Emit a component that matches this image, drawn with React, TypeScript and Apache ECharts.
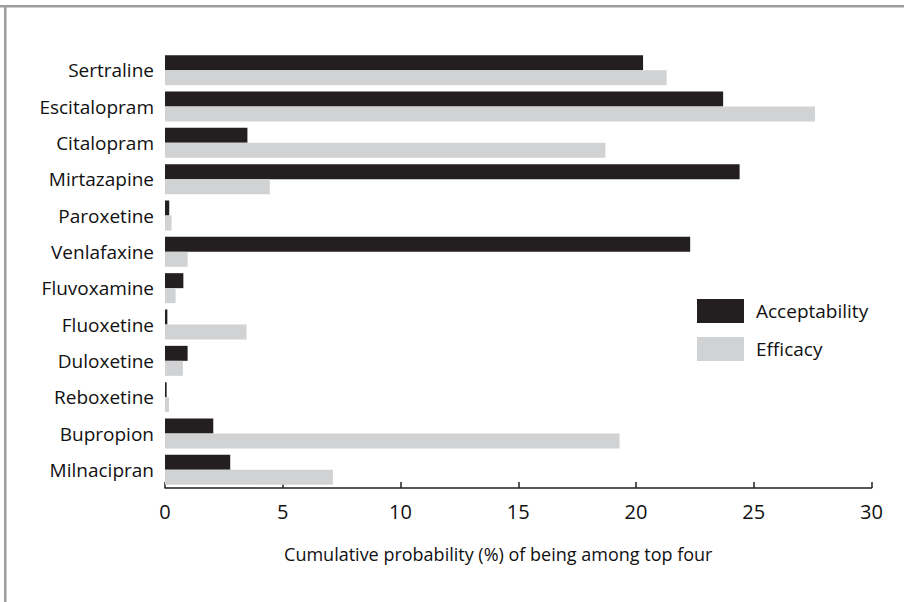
import React, { useEffect, useRef } from "react";
import * as echarts from "echarts";

const drugs = [
  "Sertraline",
  "Escitalopram",
  "Citalopram",
  "Mirtazapine",
  "Paroxetine",
  "Venlafaxine",
  "Fluvoxamine",
  "Fluoxetine",
  "Duloxetine",
  "Reboxetine",
  "Bupropion",
  "Milnacipran",
];
const acceptability = [20.3, 23.7, 3.5, 24.4, 0.18, 22.3, 0.78, 0.1, 0.96, 0.07, 2.05, 2.77];
const efficacy = [21.3, 27.6, 18.7, 4.45, 0.28, 0.96, 0.45, 3.46, 0.76, 0.17, 19.3, 7.13];
const xTicks = [0, 5, 10, 15, 20, 25, 30];
const seriesNames = ["Acceptability", "Efficacy"];

const DARK = "#231f20";
const LIGHT = "#d1d2d4";
const FONT = "'Open Sans', 'Noto Sans', sans-serif";
const TICK_FONT = "'Liberation Sans Narrow', 'Open Sans', sans-serif";

export default function App() {
  const ref = useRef<HTMLDivElement>(null);
  useEffect(() => {
    if (!ref.current) return;
    const chart = echarts.init(ref.current, null, { renderer: "svg" });
    chart.setOption({
      animation: false,
      backgroundColor: "#ffffff",
      grid: { left: 165, right: 32.5, top: 52, bottom: 114, containLabel: false },
      legend: {
        orient: "vertical",
        left: 697,
        top: 299,
        padding: 0,
        itemWidth: 47,
        itemHeight: 24,
        itemGap: 14,
        icon: "rect",
        data: seriesNames,
        textStyle: { fontFamily: FONT, fontSize: 19, color: "#111", padding: [0, 0, 0, 7] },
      },
      xAxis: {
        type: "value",
        min: xTicks[0],
        max: xTicks[xTicks.length - 1],
        interval: 5,
        name: "Cumulative probability (%) of being among top four",
        nameLocation: "middle",
        nameGap: 57,
        nameTextStyle: { fontFamily: FONT, fontSize: 18, color: "#111", padding: [0, 40, 0, 0] },
        axisLine: { show: true, lineStyle: { color: DARK, width: 1.5 } },
        axisTick: { show: true, inside: true, length: 6, lineStyle: { color: DARK, width: 1.5 } },
        axisLabel: { fontFamily: TICK_FONT, fontSize: 20, color: "#111", margin: 13 },
        splitLine: { show: false },
      },
      yAxis: {
        type: "category",
        data: drugs,
        inverse: true,
        axisLine: { show: false },
        axisTick: { show: false },
        axisLabel: { fontFamily: FONT, fontSize: 19, color: "#111", margin: 11 },
        splitLine: { show: false },
      },
      series: [
        {
          name: seriesNames[0],
          type: "bar",
          data: acceptability,
          barWidth: 15,
          barGap: "0%",
          itemStyle: { color: DARK },
        },
        {
          name: seriesNames[1],
          type: "bar",
          data: efficacy,
          barWidth: 15,
          barGap: "0%",
          itemStyle: { color: LIGHT },
        },
      ],
      graphic: [
        { type: "rect", left: 0, top: 5, shape: { width: 904, height: 2.5 }, style: { fill: "#9d9d9f" } },
        { type: "rect", left: 4, top: 5, shape: { width: 2.5, height: 597 }, style: { fill: "#9d9d9f" } },
      ],
    });
    return () => chart.dispose();
  }, []);
  return (
    <div
      ref={ref}
      style={{ position: "absolute", left: 0, top: 0, width: 904, height: 602 }}
    />
  );
}
